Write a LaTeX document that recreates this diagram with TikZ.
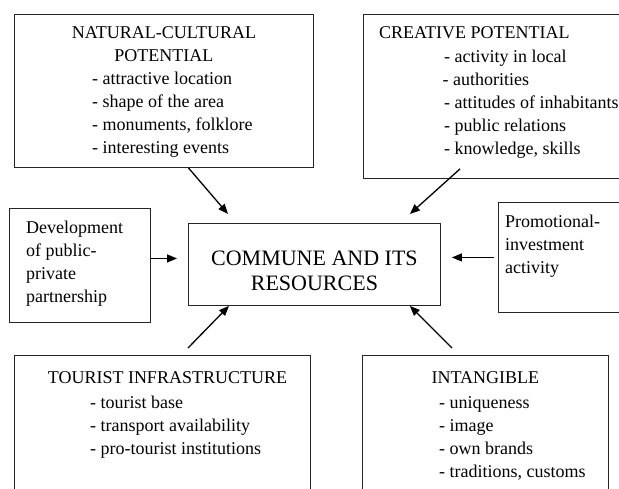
\documentclass[tikz,border=0pt]{standalone}
\usepackage{fontspec}
\setmainfont{Liberation Serif}
\usetikzlibrary{arrows.meta, positioning, calc}

\begin{document}
\begin{tikzpicture}[x=1pt,y=1pt,
	box/.style={draw=black!85, line width=0.9pt, inner sep=0pt, anchor=north west},
	txt/.style={inner sep=0pt, font=\fontsize{18}{23}\selectfont},
	arr/.style={line width=1.3pt, -{Triangle[length=10pt,width=8pt]}}
	]
	\useasboundingbox (0,0) rectangle (619,-488);
	\clip (0,0) rectangle (619,-488);
	% boxes
	\node[box, minimum width=299pt, minimum height=153pt] (nat) at (14,-14) {};
	\node[box, minimum width=300pt, minimum height=164pt] (cre) at (363,-14) {};
	\node[box, minimum width=141pt, minimum height=114pt] (dev) at (9,-208) {};
	\node[box, minimum width=252pt, minimum height=82pt] (cen) at (188,-223) {};
	\node[box, minimum width=150pt, minimum height=110pt] (pro) at (498,-202) {};
	\node[box, minimum width=296pt, minimum height=160pt] (tou) at (14,-355) {};
	\node[box, minimum width=246pt, minimum height=160pt] (int) at (362,-355) {};
	% texts (base = last line)
	\node[txt, anchor=base, align=center] (nathead) at ([yshift=-47pt]nat.north) {NATURAL-CULTURAL\\POTENTIAL};
	\node[txt, anchor=base west, align=left] (natlist) at ([xshift=78pt,yshift=-139pt]nat.north west)
		{- attractive location\\- shape of the area\\- monuments, folklore\\- interesting events};
	\node[txt, anchor=base west] (crehead) at ([xshift=16pt,yshift=-24pt]cre.north west) {CREATIVE POTENTIAL};
	\node[txt, anchor=base west, align=left] (crelist) at ([xshift=81pt,yshift=-140pt]cre.north west)
		{- activity in local\\\hspace*{-1.5pt}- authorities\\- attitudes of inhabitants\\- public relations\\- knowledge, skills};
	\node[txt, anchor=base west, align=left] (devtext) at ([xshift=17pt,yshift=-94pt]dev.north west)
		{Development\\of public-\\private\\partnership};
	\node[inner sep=0pt, font=\fontsize{22}{25}\selectfont, align=center] (centext) at ([yshift=-6pt]cen.center)
		{COMMUNE AND ITS\\RESOURCES};
	\node[txt, anchor=base west, align=left] (protext) at ([xshift=7pt,yshift=-71pt]pro.north west)
		{Promotional-\\investment\\activity};
	\node[txt, anchor=base] (touhead) at ([xshift=5pt,yshift=-28pt]tou.north) {TOURIST INFRASTRUCTURE};
	\node[txt, anchor=base west, align=left] (toulist) at ([xshift=76pt,yshift=-99pt]tou.north west)
		{- tourist base\\- transport availability\\- pro-tourist institutions};
	\node[txt, anchor=base] (inthead) at ([yshift=-28pt]int.north) {INTANGIBLE};
	\node[txt, anchor=base west, align=left] (intlist) at ([xshift=77pt,yshift=-122pt]int.north west)
		{- uniqueness\\- image\\- own brands\\- traditions, customs};
	% arrows
	\draw[arr] ([xshift=24.5pt]nat.south) -- ([xshift=40pt,yshift=9pt]cen.north west);
	\draw[arr] ([xshift=97pt,yshift=10pt]cre.south west) -- ([xshift=-31pt,yshift=9pt]cen.north east);
	\draw[arr] ([yshift=7pt]dev.east) -- ([xshift=-11pt,yshift=6pt]cen.west);
	\draw[arr] ([xshift=-4pt]pro.west) -- ([xshift=11pt,yshift=7pt]cen.east);
	\draw[arr] ([xshift=174pt,yshift=7pt]tou.north west) -- ([xshift=41pt]cen.south west);
	\draw[arr] ([xshift=90pt,yshift=7pt]int.north west) -- ([xshift=-31pt]cen.south east);
\end{tikzpicture}
\end{document}
